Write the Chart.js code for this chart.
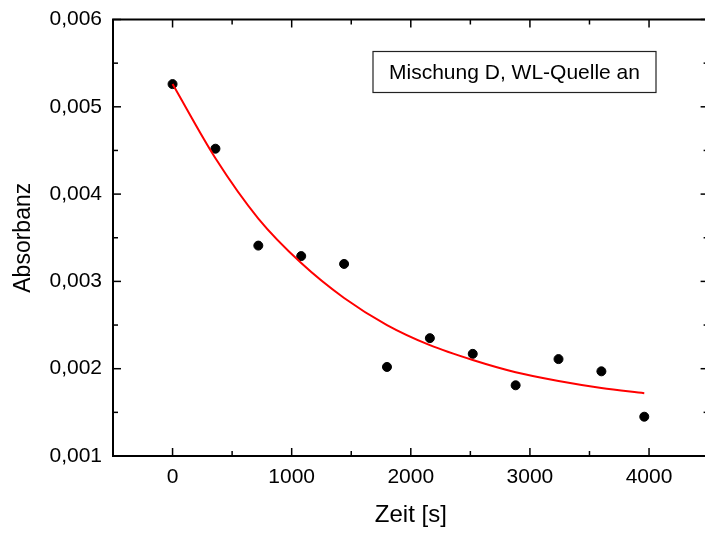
<!DOCTYPE html>
<html>
<head>
<meta charset="utf-8">
<script src="https://cdn.jsdelivr.net/npm/chart.js@4.4.1/dist/chart.umd.min.js"></script>
<style>
  html, body { margin: 0; padding: 0; background: #fff; overflow: hidden; }
  #wrap { width: 705px; height: 534px; overflow: hidden; }
  canvas { display: block; }
</style>
</head>
<body>
<div id="wrap"><canvas id="myChart" width="712" height="534"></canvas></div>
<script>
// Messwerte
const zeit = [0, 360, 720, 1080, 1440, 1800, 2160, 2520, 2880, 3240, 3600, 3960];
const absorbanz = [0.00526, 0.00452, 0.00341, 0.00329, 0.00320, 0.00202, 0.00235, 0.00217, 0.00181, 0.00211, 0.00197, 0.00145];

// Fitkurve
const fitZeit = [0, 360, 720, 1080, 1440, 1800, 2160, 2520, 2880, 3240, 3600, 3960];
const fitWerte = [0.00526, 0.00441, 0.00372, 0.00321, 0.00281, 0.00250, 0.00227, 0.00210, 0.00196, 0.00186, 0.00178, 0.00172];

// Achsen
const xTicks = [0, 1000, 2000, 3000, 4000];
const xMinor = [500, 1500, 2500, 3500];
const yTicks = [0.001, 0.002, 0.003, 0.004, 0.005, 0.006];
const yMinor = [0.0015, 0.0025, 0.0035, 0.0045, 0.0055];

const beschriftung = "Mischung D, WL-Quelle an";
const schrift = "Arial, 'Liberation Sans', sans-serif";

const toPoints = (xs, ys) => xs.map((x, i) => ({ x: x, y: ys[i] }));

// Rahmen, Ticks nach innen und Textbox
const rahmenPlugin = {
  id: "rahmen",
  afterDraw(chart) {
    const { ctx, chartArea: a, scales } = chart;
    const sx = scales.x, sy = scales.y;
    ctx.save();
    ctx.strokeStyle = "#000";
    ctx.lineWidth = 2;
    ctx.strokeRect(a.left, a.top, a.right - a.left, a.bottom - a.top);

    ctx.lineWidth = 1.5;
    const tick = (x1, y1, x2, y2) => {
      ctx.beginPath();
      ctx.moveTo(x1, y1);
      ctx.lineTo(x2, y2);
      ctx.stroke();
    };
    const major = 8, minor = 5;
    xTicks.forEach(v => {
      const px = sx.getPixelForValue(v);
      tick(px, a.bottom, px, a.bottom - major);
      tick(px, a.top, px, a.top + major);
    });
    xMinor.forEach(v => {
      const px = sx.getPixelForValue(v);
      tick(px, a.bottom, px, a.bottom - minor);
      tick(px, a.top, px, a.top + minor);
    });
    yTicks.forEach(v => {
      const py = sy.getPixelForValue(v);
      tick(a.left, py, a.left + major, py);
      tick(a.right, py, a.right - major, py);
    });
    yMinor.forEach(v => {
      const py = sy.getPixelForValue(v);
      tick(a.left, py, a.left + minor, py);
      tick(a.right, py, a.right - minor, py);
    });

    // Textbox oben rechts
    const bx = a.left + 260, by = a.top + 32, bw = 283, bh = 41;
    ctx.fillStyle = "#fff";
    ctx.fillRect(bx, by, bw, bh);
    ctx.lineWidth = 1.2;
    ctx.strokeStyle = "#222";
    ctx.strokeRect(bx, by, bw, bh);
    ctx.fillStyle = "#000";
    ctx.font = "21px " + schrift;
    ctx.textAlign = "center";
    ctx.textBaseline = "middle";
    ctx.fillText(beschriftung, bx + bw / 2, by + bh / 2 + 1);
    ctx.restore();
  }
};

const config = {
  type: "scatter",
  data: {
    datasets: [
      {
        type: "line",
        label: "Fit",
        data: toPoints(fitZeit, fitWerte),
        borderColor: "#ff0000",
        borderWidth: 2,
        pointRadius: 0,
        fill: false,
        cubicInterpolationMode: "monotone"
      },
      {
        label: "Absorbanz",
        data: toPoints(zeit, absorbanz),
        backgroundColor: "#000",
        borderColor: "#000",
        pointRadius: 4.5,
        pointHoverRadius: 4.5
      }
    ]
  },
  options: {
    responsive: false,
    animation: false,
    // Canvas ist etwas breiter als das Fenster: rechter Rand liegt ausserhalb
    layout: { autoPadding: false, padding: { top: 19.5, right: 3.4, left: 0, bottom: 0 } },
    plugins: {
      legend: { display: false },
      tooltip: { enabled: false }
    },
    scales: {
      x: {
        type: "linear",
        min: -500,
        max: 4500,
        grid: { display: false, drawTicks: false },
        border: { display: false },
        afterBuildTicks: (scale) => { scale.ticks = xTicks.map(v => ({ value: v })); },
        afterFit: (scale) => { scale.height = 78; },
        ticks: {
          color: "#000",
          padding: 9,
          maxRotation: 0,
          font: { family: schrift, size: 21 },
          callback: (v) => String(v)
        },
        title: {
          display: true,
          text: "Zeit [s]",
          color: "#000",
          font: { family: schrift, size: 24 },
          padding: { top: 0, bottom: 4 }
        }
      },
      y: {
        type: "linear",
        min: 0.001,
        max: 0.006,
        grid: { display: false, drawTicks: false },
        border: { display: false },
        afterBuildTicks: (scale) => { scale.ticks = yTicks.map(v => ({ value: v })); },
        afterFit: (scale) => {
          scale.width = 113;
          scale.paddingTop = 0;
          scale.paddingBottom = 0;
        },
        ticks: {
          color: "#000",
          padding: 11,
          font: { family: schrift, size: 21 },
          callback: (v) => v.toFixed(3).replace(".", ",")
        },
        title: {
          display: true,
          text: "Absorbanz",
          color: "#000",
          font: { family: schrift, size: 23 },
          padding: { top: 10, bottom: 0 }
        }
      }
    }
  },
  plugins: [rahmenPlugin]
};

new Chart(document.getElementById("myChart"), config);
</script>
</body>
</html>
